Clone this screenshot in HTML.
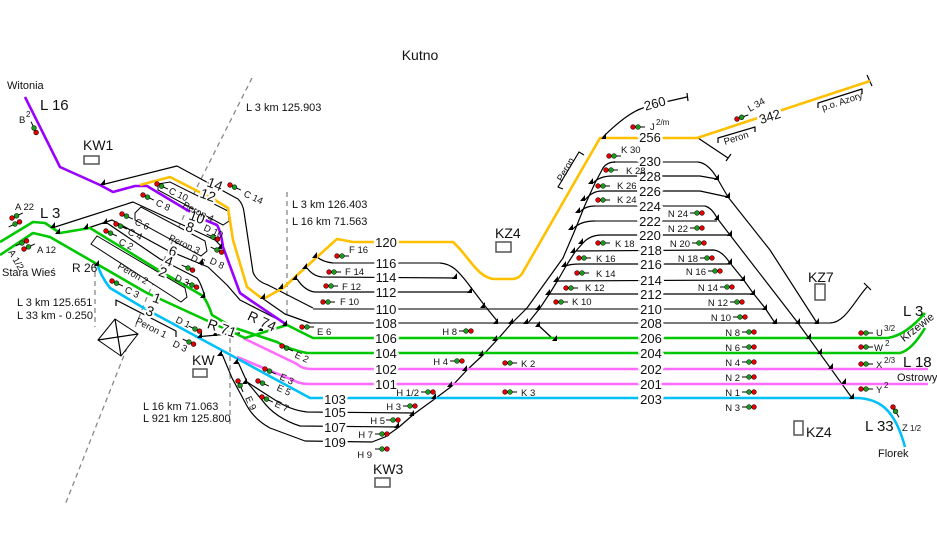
<!DOCTYPE html>
<html><head><meta charset="utf-8"><style>
html,body{margin:0;padding:0;background:#fff;}
svg{display:block;font-family:"Liberation Sans",Arial,sans-serif;}
.b{fill:none;stroke:#000;stroke-width:1.2;stroke-linejoin:round}
.g{fill:none;stroke:#7a7a7a;stroke-width:2}
.Y{fill:none;stroke:#ffc000;stroke-width:2.6;stroke-linejoin:round}
.P{fill:none;stroke:#9a00ff;stroke-width:2.6;stroke-linejoin:round}
.G{fill:none;stroke:#00c800;stroke-width:2.6;stroke-linejoin:round}
.K{fill:none;stroke:#ff6cff;stroke-width:2.6;stroke-linejoin:round}
.C{fill:none;stroke:#00c0f8;stroke-width:2.6;stroke-linejoin:round}
.d{fill:none;stroke:#888;stroke-width:1.3;stroke-dasharray:5 4}
.pl{fill:#fff;stroke:#000;stroke-width:1}
.tn{font-size:13px;text-anchor:middle;paint-order:stroke;stroke:#fff;stroke-width:5px;fill:#111}
.tr{font-size:14px;text-anchor:middle;paint-order:stroke;stroke:#fff;stroke-width:4px;fill:#111}
.s{font-size:9.5px;fill:#111}
.se{font-size:9.5px;fill:#111;text-anchor:end}
.k{font-size:11px;fill:#111}
.L{font-size:15px;fill:#111}
.bx{fill:none;stroke:#555;stroke-width:1.5}
</style></head><body>
<svg width="937" height="539" viewBox="0 0 937 539">
<defs>
<g id="sk"><line x1="0" y1="0" x2="12" y2="0" stroke="#000" stroke-width="1"/><circle cx="0" cy="0" r="2.4" fill="#e00000" stroke="#000" stroke-width=".5"/><circle cx="5" cy="0" r="2.4" fill="#1a9a1a" stroke="#000" stroke-width=".5"/></g>
<g id="sn"><line x1="-7" y1="0" x2="5" y2="0" stroke="#000" stroke-width="1"/><circle cx="0" cy="0" r="2.4" fill="#1a9a1a" stroke="#000" stroke-width=".5"/><circle cx="5" cy="0" r="2.4" fill="#e00000" stroke="#000" stroke-width=".5"/></g>
<path id="tr" d="M0,0 l-5,0 l5,-6z" fill="#000"/>
</defs>

<!-- dashed -->
<path class="d" d="M252,78 L197,187 L147,297 L65,505"/>
<path class="d" d="M95,263 L95,327"/>
<path class="d" d="M287,192 L287,318"/>
<path class="d" d="M230,338 L230,428"/>

<!-- platforms -->
<path class="pl" d="M158,184 L170,182 L228,211 L229,221 L223,225 L158,190Z"/>
<path class="pl" d="M135,213 L141,207 L205,241 L207,251 L201,256 L135,220Z"/>
<path class="pl" d="M91,244 L97,236 L185,288 L187,297 L181,302Z"/>
<path class="b" d="M116,306 L116,300 L176,331 L176,337"/>
<polygon class="pl" points="98,340 115,319 138,334 121,356"/>
<path class="b" d="M98,340 L138,334 M115,319 L121,356"/>

<!-- gray tracks -->
<path class="g" d="M313,309 L765,309"/>
<path class="g" d="M310,323 L830,323"/>
<path class="g" d="M333,263 L440,263"/>
<path class="g" d="M614,162 L698,162"/>
<path class="g" d="M595,206 L705,206"/>
<path class="g" d="M595,221 L717,221"/>

<!-- black tracks left -->
<path class="b" d="M105,184 L177,166 L238,199 Q243,204 244,212 L253,272 Q256,281 268,285 L313,308"/>
<path class="b" d="M262,298 L285,314 L310,323"/>
<path class="b" d="M317,257 Q323,262 333,263"/>
<path class="b" d="M440,263 C452,264 458,271 466,281 L485,306 L498,322"/>
<path class="b" d="M307,268 Q313,276 322,277 L457,278"/>
<path class="b" d="M297,279 Q305,291 315,292 L472,292"/>
<path class="b" d="M537,324 L552,338"/>
<path class="b" d="M55,227 L133,202 L185,226 L215,240 L222,247"/>
<path class="b" d="M88,228 L112,220 L167,250 L208,267 L227,285 L240,300 L287,324"/>
<path class="b" d="M107,223 L160,259 L197,278 Q201,283 205,297"/>
<path class="b" d="M195,337 L240,333"/>
<path class="b" d="M222,354 L232,378 L247,406 Q255,420 270,428 L305,441 L372,442"/>
<path class="b" d="M238,362 L247,382 L262,400 Q275,418 300,426 L399,427"/>
<path class="b" d="M247,382 L275,400 Q290,410 307,412 L414,413"/>
<!-- black tracks right -->
<path class="b" d="M372,442 L385,437 L399,427 L414,414 L436,398 L452,386 L467,370 L483,355 L497,340 L511,324 L527,308 L545,283 L563,258 L575,230 L585,205 L595,183 L603,168 Q607,162 615,162"/>
<path class="b" d="M528,323 L540,308 L550,293 L558,280 L566,266 L575,252 L583,243 Q590,235 602,235 L730,235"/>
<path class="b" d="M576,251 L714,250 Q722,251 730,263 L743,279 L753,293 L765,308 L775,323"/>
<path class="b" d="M566,266 Q570,264 580,264 L730,264"/>
<path class="b" d="M558,281 L743,280"/>
<path class="b" d="M550,294 L753,294"/>
<path class="b" d="M698,162 Q708,163 717,178 L728,197 L770,250 L817,323"/>
<path class="b" d="M593,183 Q600,176 612,176 L700,176 L717,179"/>
<path class="b" d="M585,200 Q592,191 602,191 L700,191 L728,197"/>
<path class="b" d="M580,212 Q585,206 595,206 M705,206 Q712,208 717,218 L730,235 L798,323 L852,398"/>
<path class="b" d="M573,229 Q580,221 595,221"/>
<path class="b" d="M602,138 C615,125 630,112 643,108 L665,102 L687,97 M687,93 L688,101"/>
<path class="b" d="M698,138 L728,158 M726,161 L731,154"/>
<path class="b" d="M830,323 C845,323 855,300 867,287 M864,283 L871,290"/>
<path class="b" d="M867,75 L872,86"/>

<!-- colored tracks -->
<path class="K" d="M243,338 L297,364 Q302,369 312,369 L928,369"/>
<path class="K" d="M237,357 L295,381 Q300,384 310,384 L928,384"/>
<path class="C" d="M97,263 Q100,275 110,288 L142,307 L310,398 L855,398 C880,398 895,410 905,447"/>
<path class="G" d="M0,242 L33,222 L45,223 L60,233 L90,228 L155,268 L203,296 Q208,303 212,315 L232,327 L277,342 Q290,350 307,353 L900,353 Q912,350 925,328"/>
<path class="G" d="M0,255 L33,233 L50,237 L147,293 L245,338 L287,325 L313,338 L887,338 Q905,336 925,313"/>
<path class="P" d="M25,97 L60,167 L100,185 L113,192 L135,186 L147,186 L187,210 L205,220 L217,225 Q221,232 223,247 L240,293 L250,300 L287,325"/>
<path class="Y" d="M140,185 L170,177 L215,200 L228,208 L233,240 L247,287 L260,297 L265,298 L283,288 L317,257 L337,239 L353,242 L453,242 C468,255 478,279 495,279 L513,279 C520,278 522,274 523,272 L600,138 L697,138 L870,81"/>

<!-- triangles -->
<g>
<use href="#tr" x="105" y="185"/><use href="#tr" x="55" y="228"/><use href="#tr" x="60" y="234"/><use href="#tr" x="88" y="229"/><use href="#tr" x="107" y="224"/><use href="#tr" x="99" y="266"/><use href="#tr" x="203" y="264"/><use href="#tr" x="205" y="298"/><use href="#tr" x="222" y="249"/><use href="#tr" x="202" y="338"/><use href="#tr" x="217" y="336"/><use href="#tr" x="263" y="331"/><use href="#tr" x="287" y="326"/><use href="#tr" x="265" y="299"/><use href="#tr" x="283" y="289"/><use href="#tr" x="317" y="258"/><use href="#tr" x="307" y="269"/><use href="#tr" x="297" y="280"/><use href="#tr" x="457" y="279"/><use href="#tr" x="472" y="293"/><use href="#tr" x="485" y="308"/><use href="#tr" x="498" y="324"/><use href="#tr" x="513" y="324"/><use href="#tr" x="528" y="324"/><use href="#tr" x="540" y="310"/><use href="#tr" x="540" y="327"/><use href="#tr" x="557" y="341"/><use href="#tr" x="497" y="341"/><use href="#tr" x="483" y="356"/><use href="#tr" x="467" y="371"/><use href="#tr" x="452" y="387"/><use href="#tr" x="436" y="399"/><use href="#tr" x="414" y="416"/><use href="#tr" x="399" y="428"/><use href="#tr" x="222" y="356"/><use href="#tr" x="238" y="364"/><use href="#tr" x="247" y="384"/><use href="#tr" x="593" y="184"/><use href="#tr" x="585" y="201"/><use href="#tr" x="580" y="213"/><use href="#tr" x="573" y="230"/><use href="#tr" x="583" y="244"/><use href="#tr" x="575" y="253"/><use href="#tr" x="566" y="267"/><use href="#tr" x="558" y="282"/><use href="#tr" x="550" y="295"/><use href="#tr" x="719" y="180"/><use href="#tr" x="730" y="198"/><use href="#tr" x="719" y="220"/><use href="#tr" x="732" y="236"/><use href="#tr" x="732" y="264"/><use href="#tr" x="745" y="281"/><use href="#tr" x="755" y="295"/><use href="#tr" x="767" y="310"/><use href="#tr" x="777" y="324"/><use href="#tr" x="800" y="324"/><use href="#tr" x="819" y="324"/><use href="#tr" x="811" y="339"/><use href="#tr" x="822" y="354"/><use href="#tr" x="833" y="369"/><use href="#tr" x="846" y="384"/><use href="#tr" x="854" y="399"/><use href="#tr" x="606" y="139"/>
</g>

<!-- boxes -->
<rect class="bx" x="84" y="156" width="15" height="8"/>
<rect class="bx" x="193" y="369" width="14" height="8"/>
<rect class="bx" x="375" y="478" width="15" height="9"/>
<rect class="bx" x="496" y="242" width="15" height="10"/>
<rect class="bx" x="794" y="421" width="9" height="14"/>
<rect class="bx" x="815" y="284" width="10" height="16"/>

<!-- brackets -->
<path class="b" d="M563,189 L558,187 L579,152 L584,155"/>
<path class="b" d="M718,143 L718,138 L755,127 L755,132"/>
<path class="b" d="M818,108 L818,103 L862,89 L862,94"/>

<!-- signals -->
<use href="#sk" x="609" y="156"/><use href="#sk" x="606" y="170"/><use href="#sk" x="598" y="186"/><use href="#sk" x="598" y="200"/><use href="#sk" x="598" y="243"/><use href="#sk" x="579" y="258"/><use href="#sk" x="577" y="273"/><use href="#sk" x="566" y="288"/><use href="#sk" x="556" y="302"/><use href="#sk" x="505" y="363"/><use href="#sk" x="505" y="392"/><use href="#sk" x="337" y="256"/><use href="#sk" x="329" y="272"/><use href="#sk" x="326" y="286"/><use href="#sk" x="323" y="302"/><use href="#sk" x="302" y="327"/><use href="#sk" x="633" y="127"/>
<use href="#sk" x="861" y="333"/><use href="#sk" x="861" y="347"/><use href="#sk" x="861" y="364"/><use href="#sk" x="861" y="389"/>
<use href="#sn" x="697" y="213"/><use href="#sn" x="697" y="228"/><use href="#sn" x="699" y="243"/><use href="#sn" x="707" y="258"/><use href="#sn" x="715" y="271"/><use href="#sn" x="727" y="287"/><use href="#sn" x="737" y="302"/><use href="#sn" x="740" y="317"/><use href="#sn" x="749" y="332"/><use href="#sn" x="749" y="347"/><use href="#sn" x="749" y="362"/><use href="#sn" x="749" y="377"/><use href="#sn" x="749" y="392"/><use href="#sn" x="749" y="407"/>
<use href="#sn" x="466" y="331"/><use href="#sn" x="457" y="361"/><use href="#sn" x="428" y="392"/><use href="#sn" x="410" y="406"/><use href="#sn" x="393" y="420"/><use href="#sn" x="382" y="434"/><use href="#sn" x="382" y="449"/>
<use href="#sk" transform="translate(737,119) rotate(-20)"/>
<use href="#sk" transform="translate(893,407) rotate(60)"/>
<use href="#sn" transform="translate(34,128) rotate(65)"/>
<use href="#sk" transform="translate(12,218) rotate(-25)"/>
<use href="#sn" transform="translate(15,224) rotate(-25)"/>
<use href="#sn" transform="translate(22,243) rotate(-25)"/>
<use href="#sk" transform="translate(24,249) rotate(-25)"/>
<use href="#sk" transform="translate(230,185) rotate(25)"/>
<use href="#sk" transform="translate(157,184) rotate(25)"/>
<use href="#sk" transform="translate(143,195) rotate(25)"/>
<use href="#sk" transform="translate(122,214) rotate(25)"/>
<use href="#sk" transform="translate(116,224) rotate(25)"/>
<use href="#sk" transform="translate(106,231) rotate(25)"/>
<use href="#sk" transform="translate(112,281) rotate(25)"/>
<use href="#sn" transform="translate(213,237) rotate(25)"/>
<use href="#sn" transform="translate(217,250) rotate(25)"/>
<use href="#sn" transform="translate(188,268) rotate(25)"/>
<use href="#sn" transform="translate(192,285) rotate(25)"/>
<use href="#sn" transform="translate(195,329) rotate(25)"/>
<use href="#sn" transform="translate(189,342) rotate(25)"/>
<use href="#sk" transform="translate(282,346) rotate(25)"/>
<use href="#sk" transform="translate(265,369) rotate(25)"/>
<use href="#sk" transform="translate(258,381) rotate(25)"/>
<use href="#sk" transform="translate(262,397) rotate(25)"/>
<use href="#sk" transform="translate(238,381) rotate(65)"/>

<!-- track labels -->
<g class="tn">
<text x="386" y="247">120</text><text x="386" y="268">116</text><text x="386" y="282">114</text><text x="386" y="297">112</text><text x="386" y="314">110</text><text x="386" y="328">108</text><text x="386" y="343">106</text><text x="386" y="358">104</text><text x="386" y="374">102</text><text x="386" y="389">101</text>
<text x="335" y="404">103</text><text x="335" y="417">105</text><text x="335" y="432">107</text><text x="335" y="447">109</text>
<text x="650" y="142">256</text><text x="650" y="166">230</text><text x="650" y="181">228</text><text x="650" y="196">226</text><text x="650" y="211">224</text><text x="650" y="226">222</text><text x="650" y="240">220</text><text x="651" y="255">218</text><text x="651" y="269">216</text><text x="651" y="285">214</text><text x="651" y="299">212</text><text x="651" y="314">210</text><text x="651" y="328">208</text><text x="651" y="343">206</text><text x="651" y="358">204</text><text x="651" y="374">202</text><text x="651" y="389">201</text><text x="651" y="404">203</text>
<text x="655" y="108" transform="rotate(-15 655 104)">260</text>
<text x="770" y="121" transform="rotate(-18 770 117)">342</text>
</g>
<g class="tr">
<text x="215" y="189" transform="rotate(20 215 184)">14</text>
<text x="208" y="200" transform="rotate(20 208 195)">12</text>
<text x="197" y="222" transform="rotate(20 197 217)">10</text>
<text x="190" y="232" transform="rotate(20 190 227)">8</text>
<text x="173" y="256" transform="rotate(20 173 251)">6</text>
<text x="169" y="266" transform="rotate(20 169 261)">4</text>
<text x="163" y="277" transform="rotate(20 163 272)">2</text>
<text x="157" y="303" transform="rotate(20 157 298)">1</text>
<text x="150" y="316" transform="rotate(20 150 311)">3</text>
<text x="222" y="333" transform="rotate(20 222 328)">R 71</text>
<text x="262" y="326" transform="rotate(25 262 321)">R 74</text>
</g>

<!-- signal labels -->
<g class="s">
<text x="621" y="153">K 30</text><text x="626" y="174">K 28</text><text x="617" y="189">K 26</text><text x="617" y="203">K 24</text><text x="615" y="247">K 18</text><text x="596" y="262">K 16</text><text x="596" y="277">K 14</text><text x="585" y="291">K 12</text><text x="572" y="305">K 10</text><text x="521" y="367">K 2</text><text x="521" y="396">K 3</text>
<text x="349" y="253">F 16</text><text x="345" y="275">F 14</text><text x="342" y="290">F 12</text><text x="340" y="305">F 10</text><text x="317" y="335">E 6</text>
<text x="650" y="130">J</text><text x="656" y="125" font-size="8">2/m</text>
<text x="876" y="336">U</text><text x="884" y="331" font-size="8">3/2</text>
<text x="874" y="351">W</text><text x="885" y="346" font-size="8">2</text>
<text x="876" y="368">X</text><text x="884" y="363" font-size="8">2/3</text>
<text x="876" y="393">Y</text><text x="884" y="388" font-size="8">2</text>
<text x="902" y="431">Z</text><text x="910" y="431" font-size="8">1/2</text>
<text x="19" y="123">B</text><text x="26" y="117" font-size="8">2</text>
<text x="15" y="210">A 22</text><text x="37" y="253">A 12</text>
<text x="8" y="252" transform="rotate(60 8 252)">A 1/2</text>
<text x="750" y="112" transform="rotate(-30 750 112)">L 34</text>
<text x="243" y="196" transform="rotate(25 243 196)">C 14</text>
<text x="168" y="193" transform="rotate(25 168 193)">C 10</text>
<text x="155" y="205" transform="rotate(25 155 205)">C 8</text>
<text x="134" y="224" transform="rotate(25 134 224)">C 6</text>
<text x="127" y="234" transform="rotate(25 127 234)">C 4</text>
<text x="118" y="244" transform="rotate(25 118 244)">C 2</text>
<text x="124" y="292" transform="rotate(25 124 292)">C 3</text>
<text x="203" y="230" transform="rotate(25 203 230)">D 10</text>
<text x="209" y="263" transform="rotate(25 209 263)">D 8</text>
<text x="190" y="260" transform="rotate(25 190 260)">D 6</text>
<text x="174" y="280" transform="rotate(25 174 280)">D 3</text>
<text x="175" y="322" transform="rotate(25 175 322)">D 1</text>
<text x="172" y="346" transform="rotate(25 172 346)">D 3</text>
<text x="294" y="357" transform="rotate(25 294 357)">E 2</text>
<text x="279" y="379" transform="rotate(25 279 379)">E 3</text>
<text x="276" y="390" transform="rotate(25 276 390)">E 5</text>
<text x="274" y="406" transform="rotate(25 274 406)">E 7</text>
<text x="245" y="398" transform="rotate(65 245 398)">E 9</text>
<text x="182" y="207" transform="rotate(27 182 207)">Peron 4</text>
<text x="168" y="240" transform="rotate(25 168 240)">Peron 3</text>
<text x="117" y="268" transform="rotate(30 117 268)">Peron 2</text>
<text x="135" y="323" transform="rotate(27 135 323)">Peron 1</text>
<text x="562" y="182" transform="rotate(-60 562 182)">Peron</text>
<text x="725" y="145" transform="rotate(-18 725 145)">Peron</text>
<text x="823" y="111" transform="rotate(-18 823 111)">p.o. Azory</text>
</g>
<g class="se">
<text x="688" y="217">N 24</text><text x="688" y="232">N 22</text><text x="690" y="247">N 20</text><text x="698" y="262">N 18</text><text x="706" y="275">N 16</text><text x="718" y="291">N 14</text><text x="728" y="306">N 12</text><text x="731" y="321">N 10</text><text x="740" y="336">N 8</text><text x="740" y="351">N 6</text><text x="740" y="366">N 4</text><text x="740" y="381">N 2</text><text x="740" y="396">N 1</text><text x="740" y="411">N 3</text>
<text x="457" y="335">H 8</text><text x="448" y="365">H 4</text><text x="419" y="396">H 1/2</text><text x="401" y="410">H 3</text><text x="385" y="424">H 5</text><text x="373" y="438">H 7</text><text x="372" y="458">H 9</text>
</g>

<!-- other labels -->
<text x="420" y="60" font-size="14" text-anchor="middle" fill="#111">Kutno</text>
<text class="k" x="7" y="89">Witonia</text>
<text class="L" x="40" y="110">L 16</text>
<text x="83" y="150" font-size="14" fill="#111">KW1</text>
<text class="k" x="246" y="111">L 3 km  125.903</text>
<text class="k" x="292" y="208">L 3   km 126.403</text>
<text class="k" x="292" y="225">L 16 km   71.563</text>
<text class="L" x="40" y="218">L 3</text>
<text class="k" x="2" y="276">Stara Wieś</text>
<text x="72" y="272" font-size="12" fill="#111">R 26</text>
<text class="k" x="17" y="306">L 3  km  125.651</text>
<text class="k" x="17" y="319">L 33 km  - 0.250</text>
<text x="192" y="365" font-size="14" fill="#111">KW</text>
<text class="k" x="143" y="410">L 16   km    71.063</text>
<text class="k" x="143" y="422">L 921 km  125.800</text>
<text x="373" y="474" font-size="14" fill="#111">KW3</text>
<text x="495" y="238" font-size="14" fill="#111">KZ4</text>
<text x="808" y="282" font-size="14" fill="#111">KZ7</text>
<text x="806" y="437" font-size="14" fill="#111">KZ4</text>
<text class="L" x="903" y="316">L 3</text>
<text class="k" x="917" y="331" text-anchor="middle" transform="rotate(-38 917 327)">Krzewie</text>
<text class="L" x="903" y="367">L 18</text>
<text class="k" x="897" y="381">Ostrowy</text>
<text class="L" x="865" y="431">L 33</text>
<text class="k" x="878" y="457">Florek</text>
</svg>
</body></html>
